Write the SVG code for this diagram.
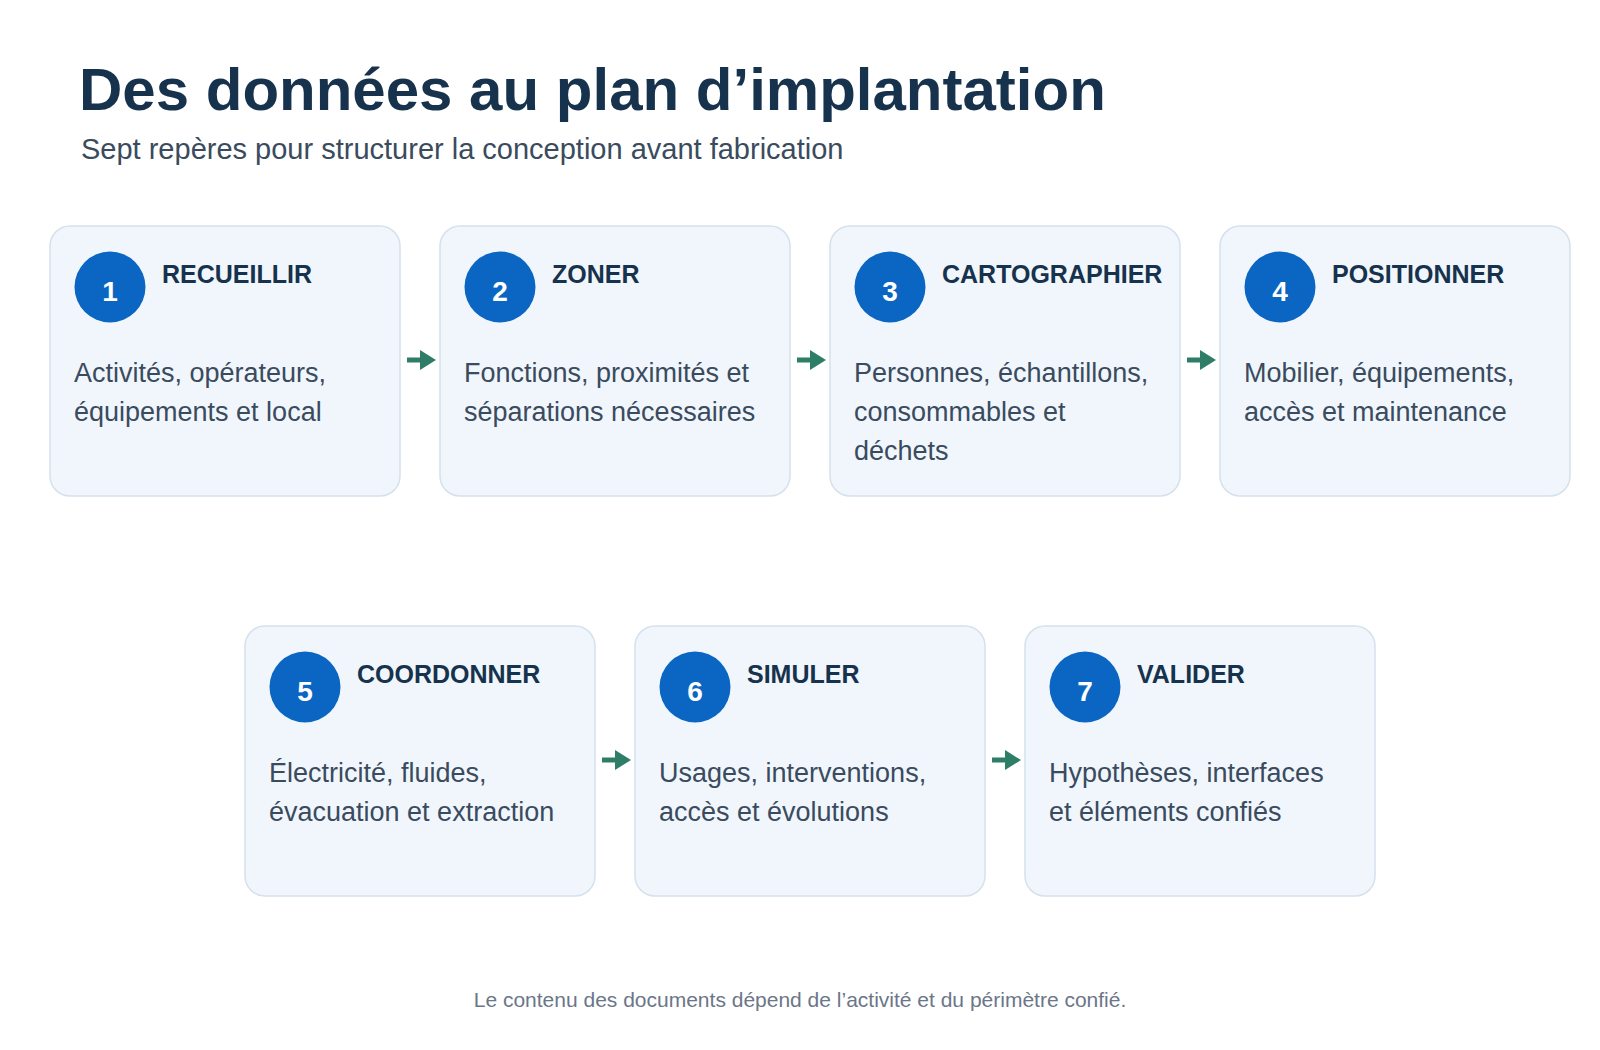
<svg xmlns="http://www.w3.org/2000/svg" width="1600" height="1050" viewBox="0 0 1600 1050">
  <defs>
    <style>
      .card { fill: #f0f6fc; stroke: #d5e1ed; stroke-width: 1.5; }
      .badge { fill: #0a66c2; }
      .num { font-family: "Liberation Sans", Arial, sans-serif; font-size: 28px; font-weight: bold; fill: #ffffff; text-anchor: middle; }
      .ttl { font-family: "Liberation Sans", Arial, sans-serif; font-size: 25px; font-weight: bold; fill: #17324d; }
      .body { font-family: "Liberation Sans", Arial, sans-serif; font-size: 27px; fill: #3a4b5e; }
      .conn { stroke: #2e7d67; stroke-width: 5; fill: none; }
      .head { fill: #2e7d67; }
    </style>
  </defs>
  <rect x="0" y="0" width="1600" height="1050" fill="#ffffff"/>

  <g id="header">
    <text x="79" y="110" font-family="Liberation Sans, Arial, sans-serif" font-size="60" font-weight="bold" fill="#17324d">Des données au plan d’implantation</text>
    <text x="81" y="159" font-family="Liberation Sans, Arial, sans-serif" font-size="29" fill="#3a4b5e">Sept repères pour structurer la conception avant fabrication</text>
  </g>

  <g id="connectors">
    <line class="conn" x1="407" y1="360" x2="421" y2="360"/><polygon class="head" points="420,350 436,360 420,370"/>
    <line class="conn" x1="797" y1="360" x2="811" y2="360"/><polygon class="head" points="810,350 826,360 810,370"/>
    <line class="conn" x1="1187" y1="360" x2="1201" y2="360"/><polygon class="head" points="1200,350 1216,360 1200,370"/>
    <line class="conn" x1="602" y1="760" x2="616" y2="760"/><polygon class="head" points="615,750 631,760 615,770"/>
    <line class="conn" x1="992" y1="760" x2="1006" y2="760"/><polygon class="head" points="1005,750 1021,760 1005,770"/>
  </g>

  <g id="step1">
    <rect class="card" x="50" y="226" width="350" height="270" rx="20"/>
    <circle class="badge" cx="110" cy="287" r="35.5"/>
    <text class="num" x="110" y="301">1</text>
    <text class="ttl" x="162" y="283">RECUEILLIR</text>
    <text class="body" x="74" y="382">Activités, opérateurs,</text>
    <text class="body" x="74" y="421">équipements et local</text>
  </g>

  <g id="step2">
    <rect class="card" x="440" y="226" width="350" height="270" rx="20"/>
    <circle class="badge" cx="500" cy="287" r="35.5"/>
    <text class="num" x="500" y="301">2</text>
    <text class="ttl" x="552" y="283">ZONER</text>
    <text class="body" x="464" y="382">Fonctions, proximités et</text>
    <text class="body" x="464" y="421">séparations nécessaires</text>
  </g>

  <g id="step3">
    <rect class="card" x="830" y="226" width="350" height="270" rx="20"/>
    <circle class="badge" cx="890" cy="287" r="35.5"/>
    <text class="num" x="890" y="301">3</text>
    <text class="ttl" x="942" y="283">CARTOGRAPHIER</text>
    <text class="body" x="854" y="382">Personnes, échantillons,</text>
    <text class="body" x="854" y="421">consommables et</text>
    <text class="body" x="854" y="460">déchets</text>
  </g>

  <g id="step4">
    <rect class="card" x="1220" y="226" width="350" height="270" rx="20"/>
    <circle class="badge" cx="1280" cy="287" r="35.5"/>
    <text class="num" x="1280" y="301">4</text>
    <text class="ttl" x="1332" y="283">POSITIONNER</text>
    <text class="body" x="1244" y="382">Mobilier, équipements,</text>
    <text class="body" x="1244" y="421">accès et maintenance</text>
  </g>

  <g id="step5">
    <rect class="card" x="245" y="626" width="350" height="270" rx="20"/>
    <circle class="badge" cx="305" cy="687" r="35.5"/>
    <text class="num" x="305" y="701">5</text>
    <text class="ttl" x="357" y="683">COORDONNER</text>
    <text class="body" x="269" y="782">Électricité, fluides,</text>
    <text class="body" x="269" y="821">évacuation et extraction</text>
  </g>

  <g id="step6">
    <rect class="card" x="635" y="626" width="350" height="270" rx="20"/>
    <circle class="badge" cx="695" cy="687" r="35.5"/>
    <text class="num" x="695" y="701">6</text>
    <text class="ttl" x="747" y="683">SIMULER</text>
    <text class="body" x="659" y="782">Usages, interventions,</text>
    <text class="body" x="659" y="821">accès et évolutions</text>
  </g>

  <g id="step7">
    <rect class="card" x="1025" y="626" width="350" height="270" rx="20"/>
    <circle class="badge" cx="1085" cy="687" r="35.5"/>
    <text class="num" x="1085" y="701">7</text>
    <text class="ttl" x="1137" y="683">VALIDER</text>
    <text class="body" x="1049" y="782">Hypothèses, interfaces</text>
    <text class="body" x="1049" y="821">et éléments confiés</text>
  </g>

  <g id="footer">
    <text x="800" y="1007" text-anchor="middle" font-family="Liberation Sans, Arial, sans-serif" font-size="21" fill="#6b7689">Le contenu des documents dépend de l’activité et du périmètre confié.</text>
  </g>
</svg>
